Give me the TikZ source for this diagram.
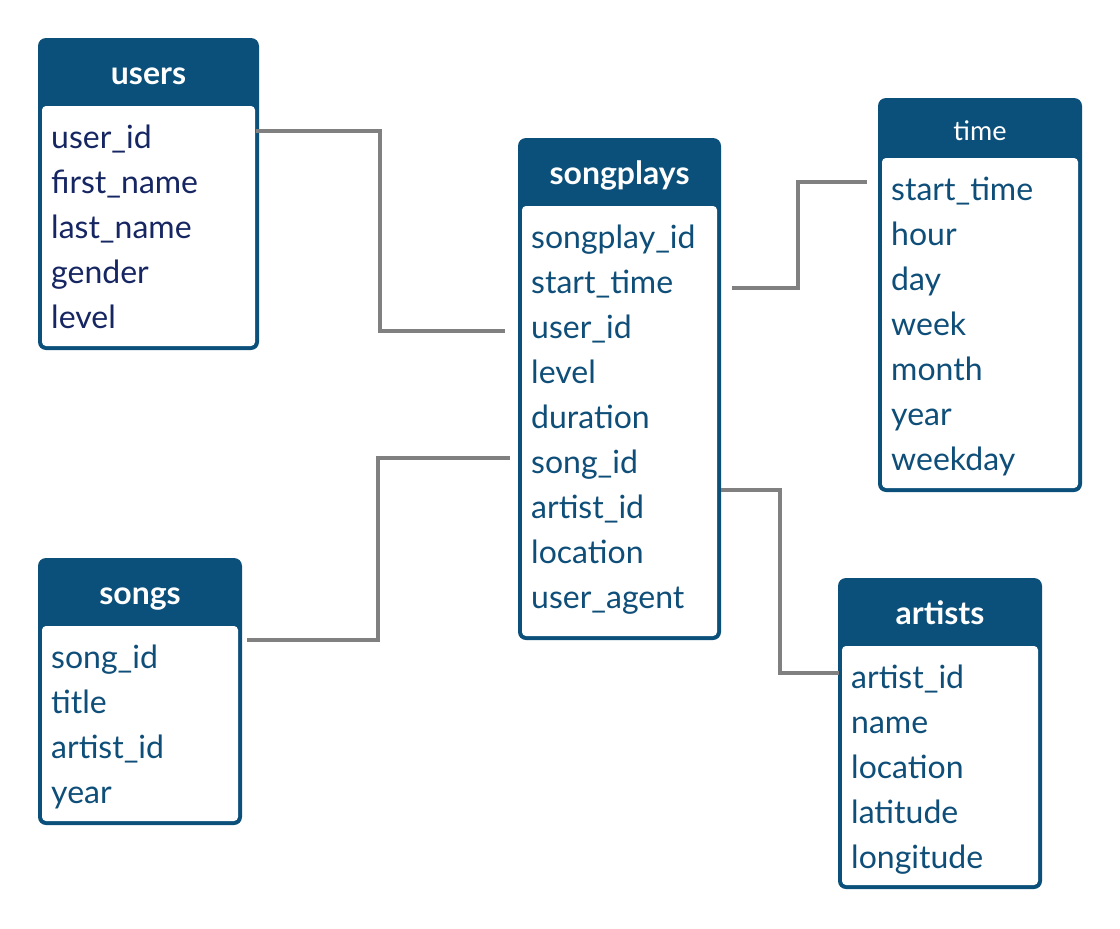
\documentclass[tikz,border=0pt]{standalone}
\usepackage{fontspec}
\setmainfont{Lato}
\usepackage{tikz}
\usetikzlibrary{calc}

\definecolor{hdrblue}{RGB}{11,80,122}
\definecolor{rowblue}{RGB}{14,78,120}
\definecolor{rownavy}{RGB}{22,38,98}
\definecolor{linkgray}{RGB}{128,128,128}

\tikzset{
    link/.style={draw=linkgray, line width=3.5pt},
    tabtitle/.style={anchor=base, text=white, inner sep=0pt, font=\fontsize{32}{36}\selectfont\bfseries},
    tabrow/.style={anchor=base west, inner sep=0pt, font=\fontsize{32}{36}\selectfont},
}

% name, x1, y1, x2, y2, header bottom, title, rows, text colour
\newcommand{\dbtable}[9]{%
    \fill[hdrblue, rounded corners=8pt] (#2,#3) rectangle (#4,#5);
    \fill[white, rounded corners=4pt] (#2+4,#6) rectangle (#4-4,#5-4);
    \coordinate (#1-nw) at (#2,#3);
    \coordinate (#1-se) at (#4,#5);
    \node[tabtitle] (#1-title) at ($(#2,#3)!.5!(#4,#6)+(0,12)$) {#7};
    \foreach \f [count=\i] in {#8}
        \node[tabrow, text=#9] (#1-\i) at (#2+13,{#6+42+45*(\i-1)}) {\f};
}

\begin{document}
\begin{tikzpicture}[x=1pt, y=-1pt]
    \useasboundingbox (0,0) rectangle (1120,929);

    \dbtable{users}{38}{38}{259}{350}{106}{users}%
        {user\_id, first\_name, last\_name, gender, level}{rownavy}
    \dbtable{sp}{518}{138}{721}{640}{206}{songplays}%
        {songplay\_id, start\_time, user\_id, level, duration, song\_id, artist\_id, location, user\_agent}{rowblue}
    \dbtable{time}{878}{98}{1082}{492}{158}{\fontsize{27}{30}\selectfont\mdseries time}%
        {start\_time, hour, day, week, month, year, weekday}{rowblue}
    \dbtable{songs}{38}{558}{242}{825}{626}{songs}%
        {song\_id, title, artist\_id, year}{rowblue}
    \dbtable{artists}{838}{578}{1042}{889}{646}{artists}%
        {artist\_id, name, location, latitude, longitude}{rowblue}

    \draw[link] ($(users-1.base -| users-se)+(-3,-17)$) -- ++(124,0) |- ($(sp-3.base -| sp-nw)+(-13,-7)$);
    \draw[link] ($(sp-2.base -| sp-se)+(11,-5)$) -- ++(66,0) |- ($(time-1.base -| time-nw)+(-11,-18)$);
    \draw[link] ($(songs-1.base -| songs-se)+(5,-28)$) -- ++(131,0) |- ($(sp-6.base -| sp-nw)+(-8,-15)$);
    \draw[link] ($(sp-7.base -| sp-se)+(0,-28)$) -- ++(59,0) |- ($(artists-1.base -| artists-nw)+(1,-15)$);
\end{tikzpicture}
\end{document}
